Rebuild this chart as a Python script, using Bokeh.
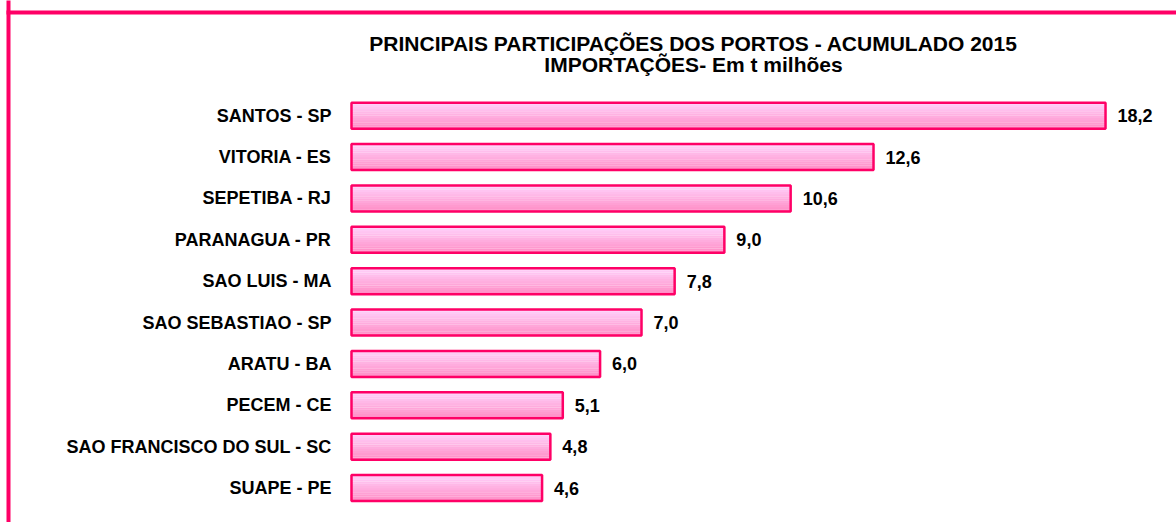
from bokeh.plotting import figure
from bokeh.models import ColumnDataSource, Range1d, BoxAnnotation, Label
from bokeh.transform import dodge
from bokeh.core.properties import value
from bokeh.embed import file_html
from bokeh.resources import INLINE

# ---- data ----
ports = ["SANTOS - SP", "VITORIA - ES", "SEPETIBA - RJ", "PARANAGUA - PR",
         "SAO LUIS - MA", "SAO SEBASTIAO - SP", "ARATU - BA", "PECEM - CE",
         "SAO FRANCISCO DO SUL - SC", "SUAPE - PE"]
values = [18.2, 12.6, 10.6, 9.0, 7.8, 7.0, 6.0, 5.1, 4.8, 4.6]
title_lines = ["PRINCIPAIS PARTICIPAÇÕES DOS PORTOS - ACUMULADO 2015",
               "IMPORTAÇÕES- Em t milhões"]

n = len(ports)
ypos = [n - 1 - i for i in range(n)]
value_labels = [f"{v:.1f}".replace(".", ",") for v in values]
zeros = [0] * n

src = ColumnDataSource(dict(port=ports, val=values, y=ypos,
                            vlab=value_labels, zero=zeros))

W, H = 1176, 522
FONT = "Liberation Sans"
PINK = "#FF0066"

p = figure(width=W, height=H, output_backend="svg", toolbar_location=None,
           x_range=Range1d(-8.472, 19.913), y_range=Range1d(-0.833, 11.785),
           x_axis_type=None, y_axis_type=None, min_border=0,
           background_fill_color="white", border_fill_color="white")
p.grid.visible = False
p.outline_line_color = None

# gradient-like fill via stacked strips
BAR_H = 0.63
NSTRIP = 12
top_rgb = (0xFF, 0xD0, 0xFA)
bot_rgb = (0xFF, 0x8E, 0xC6)
sh = BAR_H / NSTRIP
for k in range(NSTRIP):
    t = k / (NSTRIP - 1)  # 0 bottom -> 1 top
    c = tuple(int(round(b + (a - b) * t)) for a, b in zip(top_rgb, bot_rgb))
    col = "#%02X%02X%02X" % c
    off = -BAR_H / 2 + (k + 0.5) * sh
    p.hbar(y=dodge("y", off), left="zero", right="val", height=sh * 1.08,
           source=src, fill_color=col, line_color=None)

# bar outline
p.hbar(y="y", left="zero", right="val", height=BAR_H, source=src,
       fill_color=None, line_color=PINK, line_width=2.5)

# category labels
p.text(x="zero", y="y", text="port", source=src, x_offset=-20,
       text_align="right", text_baseline="middle",
       text_font=value(FONT), text_font_style="bold",
       text_font_size="18px", text_color="black")

# value labels
p.text(x="val", y="y", text="vlab", source=src, x_offset=12,
       text_align="left", text_baseline="middle",
       text_font=value(FONT), text_font_style="bold",
       text_font_size="18px", text_color="black")

# title
for i, line in enumerate(title_lines):
    p.add_layout(Label(x=693, y=H - 43 - 21 * i, x_units="screen", y_units="screen",
                       text=line, text_align="center", text_baseline="middle",
                       text_font=FONT, text_font_style="bold",
                       text_font_size="21px", text_color="black"))

# outer pink border (only top & left visible, as in the cropped original)
p.add_layout(BoxAnnotation(left=6, right=10, top=H + 100, bottom=-100,
                           left_units="screen", right_units="screen",
                           top_units="screen", bottom_units="screen",
                           fill_color=PINK, fill_alpha=1, line_alpha=0))
p.add_layout(BoxAnnotation(left=6, right=W + 100, top=H - 10, bottom=H - 14,
                           left_units="screen", right_units="screen",
                           top_units="screen", bottom_units="screen",
                           fill_color=PINK, fill_alpha=1, line_alpha=0))

open("out.html", "w").write(file_html(p, INLINE))
